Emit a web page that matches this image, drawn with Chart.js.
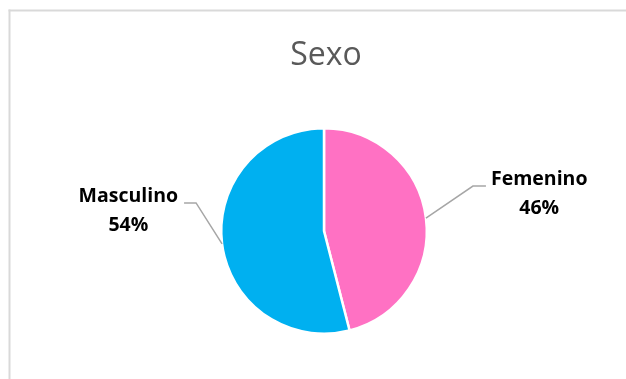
<!DOCTYPE html>
<html>
<head>
<meta charset="utf-8">
<script src="https://cdn.jsdelivr.net/npm/chart.js@4"></script>
<style>
  html, body { margin: 0; padding: 0; background: #ffffff; }
  canvas { display: block; }
</style>
</head>
<body>
<canvas id="chart" width="626" height="379"></canvas>
<script>
// Distribución por sexo
const categories = ['Femenino', 'Masculino'];
const percentages = [46, 54];
const sliceColors = ['#FF71C3', '#00B0F0'];
const chartTitle = 'Sexo';

// Callout geometry for each slice label: elbow and line end relative to the slice edge
const callouts = [
  { elbowDx: 47, elbowDy: -32, endDx: 60, side: 'right' },
  { elbowDx: -26, elbowDy: -41, endDx: -38, side: 'left' }
];

const framePlugin = {
  id: 'frameAndTitle',
  beforeDraw(chart) {
    const ctx = chart.ctx;
    ctx.save();
    ctx.fillStyle = '#ffffff';
    ctx.fillRect(0, 0, chart.width, chart.height);
    ctx.fillStyle = '#D9D9D9';
    ctx.fillRect(8.5, 9.5, 2, chart.height);
    ctx.fillRect(8.5, 9.5, chart.width, 2);
    ctx.fillStyle = '#595959';
    ctx.font = '32px "Open Sans"';
    ctx.textAlign = 'center';
    ctx.textBaseline = 'alphabetic';
    ctx.fillText(chartTitle, 326, 65);
    ctx.restore();
  }
};

const calloutPlugin = {
  id: 'calloutLabels',
  afterDatasetsDraw(chart) {
    const ctx = chart.ctx;
    const meta = chart.getDatasetMeta(0);
    ctx.save();
    meta.data.forEach((arc, i) => {
      const p = arc.getProps(['x', 'y', 'startAngle', 'endAngle', 'outerRadius'], true);
      const mid = (p.startAngle + p.endAngle) / 2;
      const ax = p.x + Math.cos(mid) * p.outerRadius;
      const ay = p.y + Math.sin(mid) * p.outerRadius;
      const c = callouts[i];
      const ex = ax + c.elbowDx;
      const ey = ay + c.elbowDy;
      const lx = ax + c.endDx;
      ctx.strokeStyle = '#A6A6A6';
      ctx.lineWidth = 1.5;
      ctx.beginPath();
      ctx.moveTo(ax, ay);
      ctx.lineTo(ex, ey);
      ctx.lineTo(lx, ey);
      ctx.stroke();

      const lines = [categories[i], percentages[i] + '%'];
      ctx.font = 'bold 19.5px "Open Sans"';
      ctx.fillStyle = '#000000';
      ctx.textAlign = 'center';
      ctx.textBaseline = 'alphabetic';
      const w = Math.max(...lines.map(t => ctx.measureText(t).width));
      const cx = c.side === 'right' ? lx + 5 + w / 2 : lx - 6 - w / 2;
      ctx.fillText(lines[0], cx, ey - 1);
      ctx.fillText(lines[1], cx, ey + 28);
    });
    ctx.restore();
  }
};

new Chart(document.getElementById('chart'), {
  type: 'pie',
  data: {
    labels: categories,
    datasets: [{
      data: percentages,
      backgroundColor: sliceColors,
      borderColor: '#ffffff',
      borderWidth: 2.5
    }]
  },
  options: {
    responsive: false,
    animation: false,
    layout: { padding: { left: 220, right: 198, top: 127, bottom: 44 } },
    plugins: {
      legend: { display: false },
      title: { display: false },
      tooltip: { enabled: false }
    }
  },
  plugins: [framePlugin, calloutPlugin]
});
</script>
</body>
</html>
